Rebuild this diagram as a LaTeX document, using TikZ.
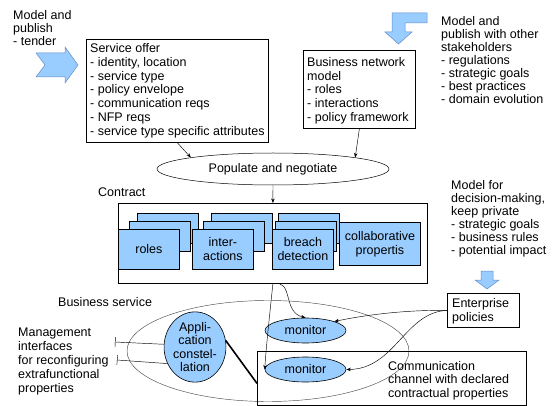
\documentclass[tikz,border=0pt]{standalone}
\usepackage{fontspec}
\setmainfont{Liberation Sans}
\usetikzlibrary{shapes.geometric,arrows.meta}
\definecolor{lblue}{RGB}{153,204,255}
\definecolor{arrowrim}{RGB}{100,140,200}
\begin{document}
\begin{tikzpicture}[x=1pt,y=-1pt,
  every node/.style={font=\fontsize{12.5}{13.8}\selectfont},
  plain/.style={inner sep=0pt, align=left, anchor=north west},
  frame/.style={draw, line width=0.8pt, anchor=north west, inner sep=0pt},
  card/.style={draw, line width=0.8pt, fill=lblue, anchor=north west, minimum width=61pt, minimum height=30pt, inner sep=0pt, align=center},
  blob/.style={ellipse, draw, line width=0.6pt, fill=lblue, inner sep=0pt, align=center},
  conn/.style={line width=0.45pt, -{Stealth[length=4.5pt,width=3.5pt]}},
  bigarrow/.style={fill=lblue, draw=arrowrim, line width=0.5pt},
  mgmt/.style={line width=0.45pt, {Bar[width=10pt]}-}]
\useasboundingbox (0,0) rectangle (554,406);

% --- publishing arrows ---
\draw[bigarrow] (36,53) -- (65,53) -- (65,47) -- (78,65) -- (65,83) -- (65,77) -- (36,77) -- (45,65) -- cycle;
\draw[bigarrow] (392,13) -- (427,13) -- (427,23) -- (405,23) -- (405,32) -- (412,32) -- (398.5,44) -- (385,32) -- (392,32) -- cycle;
\draw[bigarrow] (481,271) -- (493,271) -- (493,280) -- (499,280) -- (487,289) -- (475,280) -- (481,280) -- cycle;

% --- free texts ---
\node[plain, font=\fontsize{12.5}{13}\selectfont] (tender) at (13,10) {Model and\\publish\\- tender};
\node[plain, font=\fontsize{12.5}{13}\selectfont] (stake) at (441,16) {Model and\\publish with other\\stakeholders\\- regulations\\- strategic goals\\- best practices\\- domain evolution};
\node[plain, font=\fontsize{12.5}{13}\selectfont] (decide) at (451,180) {Model for\\decision-making,\\keep private\\- strategic goals\\- business rules\\- potential impact};
\node[plain, font=\fontsize{12.5}{14}\selectfont] (mgmttext) at (18,328) {Management\\interfaces\\for reconfiguring\\extrafunctional\\properties};
\node[plain] (contractlbl) at (98,188) {Contract};
\node[plain] (servicelbl) at (58,297) {Business service};

% --- top boxes ---
\node[frame, minimum width=182pt, minimum height=103pt] (svc) at (86,39) {};
\node[plain] (svctext) at (90,43.3)
  {Service offer\\- identity, location\\- service type\\- policy envelope\\- communication reqs\\- NFP reqs\\- service type specific attributes};
\node[frame, minimum width=112pt, minimum height=78pt] (bnm) at (303,50) {};
\node[plain, font=\fontsize{12.5}{13.75}\selectfont] (bnmtext) at (307,57)
  {Business network\\model\\- roles\\- interactions\\- policy framework};

\node[ellipse, draw, line width=0.5pt, minimum width=232pt, minimum height=32pt, inner sep=0pt] (pop) at (273,169) {Populate and negotiate};

% --- contract ---
\node[frame, minimum width=309pt, minimum height=80pt] (contract) at (118,203) {};
\node[card] (rolesC) at (137,213) {};
\node[card] (rolesB) at (129,221) {};
\node[card, minimum height=40pt] (roles) at (118,229) {roles};
\node[card] (interC) at (211,213) {};
\node[card] (interB) at (203,221) {};
\node[card, minimum height=40pt, font=\fontsize{12.5}{14}\selectfont] (inter) at (192,229) {inter-\\actions};
\node[card] (breachC) at (278,213) {};
\node[card] (breachB) at (275,221) {};
\node[card, minimum height=40pt, font=\fontsize{12.5}{14}\selectfont] (breach) at (272,229) {breach\\detection};
\node[card, minimum width=81pt, minimum height=43pt, font=\fontsize{12.5}{14}\selectfont] (collab) at (339,222) {collaborative\\propertis};

% --- business service ---
\node[ellipse, draw=black!70, line width=0.45pt, minimum width=282pt, minimum height=101pt] (svcarea) at (268,351) {};
\node[frame, minimum width=269pt, minimum height=54pt] (comm) at (257,351) {};
\node[plain, font=\fontsize{12.5}{13.5}\selectfont] (commtext) at (388,361) {Communication\\channel with declared\\contractual properties};
\node[blob, minimum width=57pt, minimum height=67pt, font=\fontsize{12.5}{13.5}\selectfont] (app) at (195,347) {Appli-\\cation\\constel-\\lation};
\node[blob, minimum width=81pt, minimum height=25pt] (mon1) at (305.5,330.5) {monitor};
\node[blob, minimum width=81pt, minimum height=25pt] (mon2) at (305.5,369.5) {monitor};
\node[frame, minimum width=72pt, minimum height=34pt] (ent) at (447,293) {};
\node[plain, font=\fontsize{12.5}{14}\selectfont] (enttext) at (452,298) {Enterprise\\policies};

% --- connectors ---
\draw[conn] (svc.south) -- (pop.north west);
\draw[conn] (bnm.south) -- (pop.north east);
\draw[conn] (pop.south) -- (contract.north);
\draw[conn] (contract.south) .. controls (268,330) and (266,350) .. (mon2.west);
\draw[conn] (contract.south) .. controls (294,279) and (282,312) .. (mon1.north);
\draw[conn] (ent.west) .. controls (420,310) and (380,312) .. (mon1.north east);
\draw[conn] (ent.west) .. controls (405,312) and (395,369) .. (mon2.east);

\coordinate (mg1) at (115,342);
\coordinate (mg2) at (117,360);
\draw[mgmt] (mg1) -- (app.175);
\draw[mgmt] (mg2) -- (app.211);
\draw[line width=1.6pt] (app.12) -- ([yshift=-5pt]comm.west);
\end{tikzpicture}
\end{document}
